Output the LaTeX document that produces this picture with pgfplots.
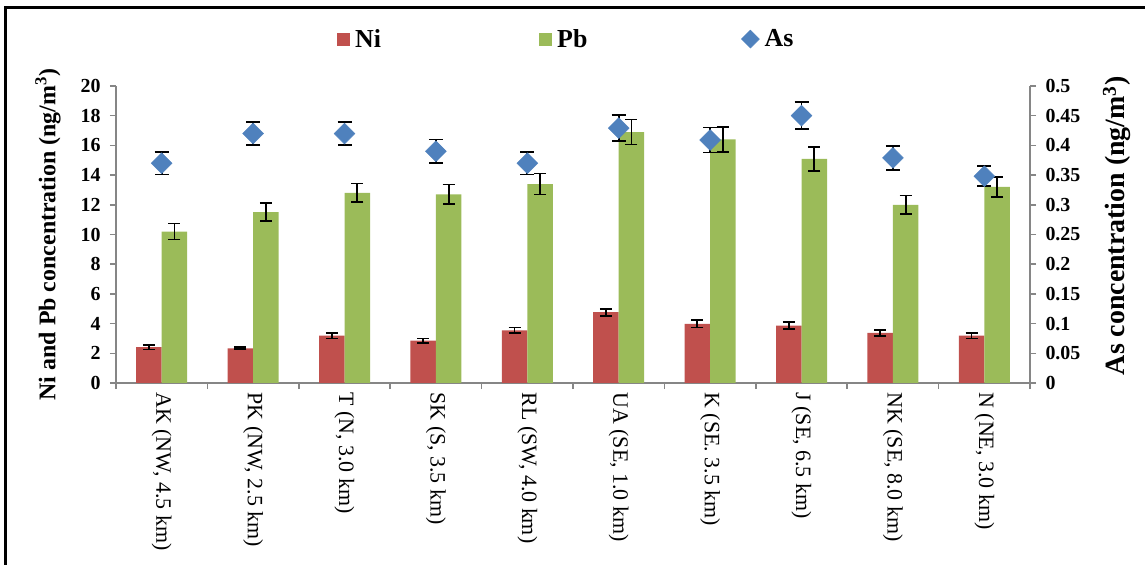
\documentclass[border=0pt]{standalone}
\usepackage{fontspec}
\setmainfont{Liberation Serif}
\usepackage{pgfplots}
\usepackage{pgfplotstable}
\pgfplotsset{compat=1.18}

\definecolor{niRed}{HTML}{C0504D}
\definecolor{pbGreen}{HTML}{9BBB59}
\definecolor{asBlue}{HTML}{4F81BD}
\definecolor{axGray}{HTML}{868686}

% site  Ni  Ni-err  Pb  Pb-err  As  As-err  (ng/m^3)
\pgfplotstableread{
x ni   nie  pb   pbe  as    ase
0 2.41 0.15 10.2 0.54 0.370 0.019
1 2.34 0.07 11.5 0.60 0.420 0.020
2 3.19 0.20 12.8 0.63 0.420 0.020
3 2.85 0.15 12.7 0.67 0.390 0.020
4 3.55 0.19 13.4 0.71 0.370 0.019
5 4.77 0.24 16.9 0.84 0.429 0.022
6 3.98 0.24 16.4 0.84 0.409 0.021
7 3.87 0.24 15.1 0.80 0.450 0.023
8 3.37 0.19 12.0 0.62 0.379 0.020
9 3.19 0.20 13.2 0.65 0.348 0.017
}\sitedata

\begin{document}
\begin{tikzpicture}
\path[use as bounding box] (0,0) rectangle (1145bp,565bp);
\draw[line width=3bp, black] (5bp,0) -- (5bp,557bp) -- (1145bp,557bp);

\pgfplotsset{
  common/.style={
    scale only axis, width=914bp, height=297bp,
    at={(116bp,182bp)}, anchor=south west,
    xmin=-0.5, xmax=9.5,
    axis line style={-, draw=axGray, line width=1.5bp},
    tick style={draw=axGray, line width=1.5bp},
    major tick length=6bp,
    tick align=outside,
    /pgf/number format/assume math mode=true,
  },
  errs/.style={
    error bars/y dir=both, error bars/y explicit,
    error bars/error bar style={line width=1.8bp, black},
    error bars/error mark options={rotate=90, mark size=#1, line width=1.8bp, black},
  },
}

\begin{axis}[common,
  axis x line*=bottom, axis y line*=left,
  ymin=0, ymax=20, ytick={0,2,...,20},
  yticklabel style={font=\fontsize{20}{24}\selectfont\bfseries, xshift=-6bp},
  xtick={-0.5,0.5,...,9.5},
  x tick label as interval,
  xticklabels={{AK (NW, 4.5 km)},{PK (NW, 2.5 km)},{T (N, 3.0 km)},{SK (S, 3.5 km)},{RL (SW, 4.0 km)},{UA (SE, 1.0 km)},{K (SE. 3.5 km)},{J (SE, 6.5 km)},{NK (SE, 8.0 km)},{N (NE, 3.0 km)}},
  xticklabel style={rotate=-90, anchor=west, font=\fontsize{22}{24}\selectfont},
  ybar=0pt, bar width=25.5bp,
  every axis y label/.style={at={(axis description cs:-0.0744,0.5)}, rotate=90, anchor=center,
    font=\fontsize{24}{28}\selectfont\bfseries},
  ylabel={Ni and Pb concentration (ng/m\textsuperscript{3})},
  legend columns=3,
  legend style={at={(axis description cs:0.2418,1.158)}, anchor=west, draw=none, fill=none,
    inner sep=0pt, font=\fontsize{26}{28}\selectfont\bfseries, nodes={inner sep=3bp}},
]
\addplot[fill=niRed, draw=none, errs=6bp,
  legend image code/.code={\fill[niRed] (0bp,-6.5bp) rectangle (13bp,6.5bp);}]
  table[x=x, y=ni, y error=nie] {\sitedata};
\addlegendentry{\makebox[183bp][l]{\hspace{2bp}Ni}}
\addplot[fill=pbGreen, draw=none, errs=6bp,
  legend image code/.code={\fill[pbGreen] (0bp,-6.5bp) rectangle (13bp,6.5bp);}]
  table[x=x, y=pb, y error=pbe] {\sitedata};
\addlegendentry{\makebox[183bp][l]{\hspace{2bp}Pb}}
\addlegendimage{legend image code/.code={\fill[asBlue] (0bp,0bp) -- (9bp,9bp) -- (18bp,0bp) -- (9bp,-9bp) -- cycle;}}
\addlegendentry{\hspace{2bp}As}
\end{axis}

\begin{axis}[common,
  axis y line*=right, axis x line=none,
  ymin=0, ymax=0.5,
  ytick={0,0.05,0.1,0.15,0.2,0.25,0.3,0.35,0.4,0.45,0.5},
  yticklabels={0,0.05,0.1,0.15,0.2,0.25,0.3,0.35,0.4,0.45,0.5},
  yticklabel style={font=\fontsize{20}{24}\selectfont\bfseries, xshift=6bp},
  every axis y label/.style={at={(axis description cs:1.0952,0.529)}, rotate=90, anchor=center,
    font=\fontsize{28}{32}\selectfont\bfseries},
  ylabel={As concentration (ng/m\textsuperscript{3})},
]
% error bars first, diamonds drawn on top of them
\addplot[draw=none, mark=none, errs=7bp]
  table[x=x, y=as, y error=ase] {\sitedata};
\addplot[only marks, mark=square*, mark size=7.4bp,
  mark options={rotate=45, fill=asBlue, draw=asBlue}]
  table[x=x, y=as] {\sitedata};
\end{axis}
\end{tikzpicture}
\end{document}
